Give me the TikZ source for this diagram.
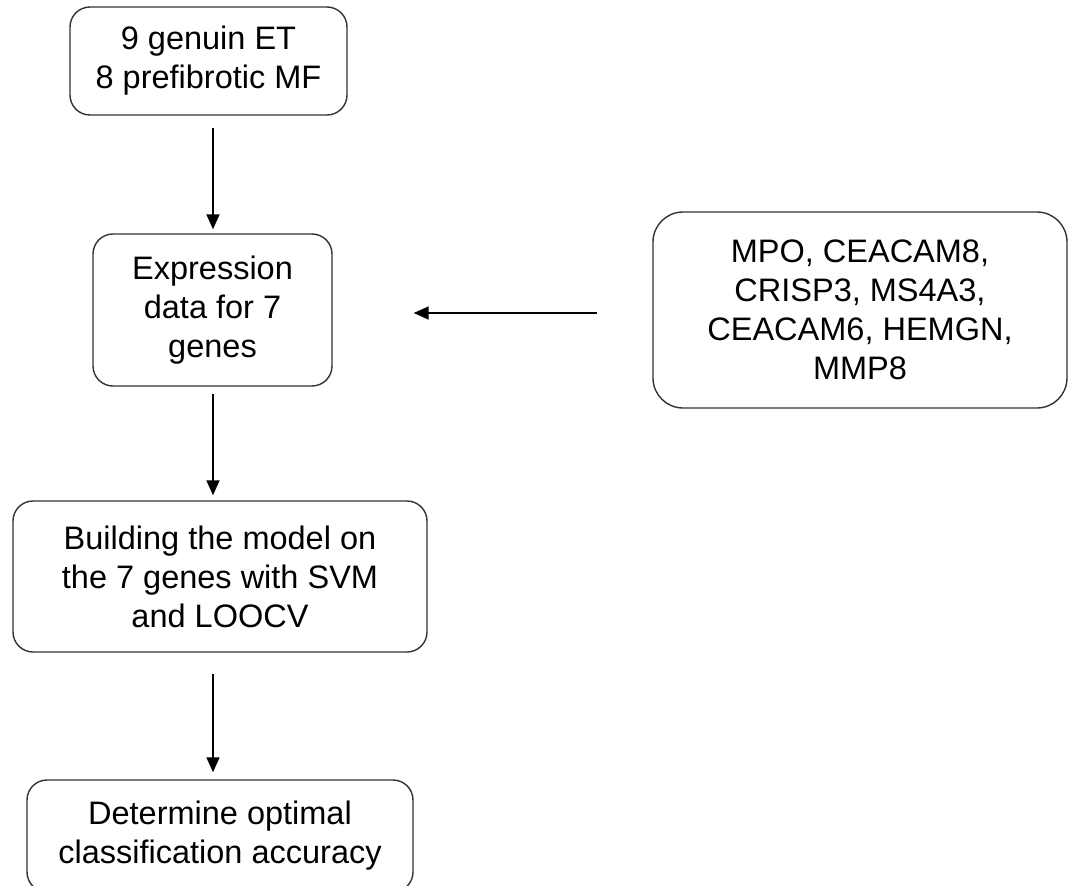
\documentclass[tikz,border=0pt]{standalone}
\usepackage{fontspec}
\setmainfont{Liberation Sans}
\usetikzlibrary{arrows.meta}
\tikzset{box/.style={draw=black!80,line width=1.4pt,rounded corners=20pt,align=center,inner sep=0pt,font=\fontsize{32.5}{39}\selectfont}}
\begin{document}
\begin{tikzpicture}[x=1pt,y=-1pt,>={Triangle[length=15pt,width=13pt]},line width=1.6pt]
\useasboundingbox (0,0) rectangle (1069,886);
\node[box,minimum width=277pt,minimum height=108pt](samples)at(208.5,61){9 genuin ET\\8 prefibrotic MF};
\node[box,minimum width=239pt,minimum height=152pt](expr)at(212.5,310){Expression\\data for 7\\genes};
\node[box,rounded corners=30pt,minimum width=414pt,minimum height=196pt](genes)at(860,310){MPO, CEACAM8,\\CRISP3, MS4A3,\\CEACAM6, HEMGN,\\MMP8};
\node[box,minimum width=414pt,minimum height=151pt](model)at(220,576.5){Building the model on\\the 7 genes with SVM\\and LOOCV};
\node[box,minimum width=386pt,minimum height=112pt](acc)at(220,836){Determine optimal\\classification accuracy};
\draw[->,shorten <=12pt,shorten >=4pt](samples.south-|213,0)--(expr.north-|213,0);
\draw[->,shorten <=7pt,shorten >=5pt](expr.south-|213,0)--(model.north-|213,0);
\draw[->,shorten <=21pt,shorten >=7pt](model.south-|213,0)--(acc.north-|213,0);
\draw[->,shorten <=55pt,shorten >=81pt](genes.west|-0,313)--(expr.east|-0,313);
\end{tikzpicture}
\end{document}
